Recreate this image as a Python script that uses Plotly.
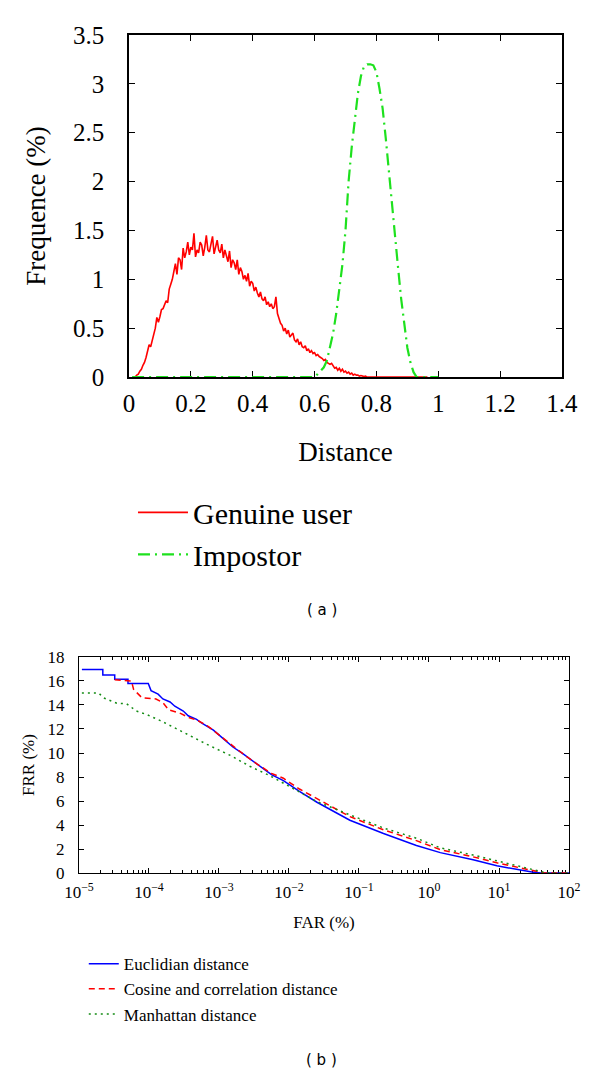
import plotly.graph_objects as go

# (a) distance distributions
# genuine user histogram, one value every 0.005 starting at 0.015
gen_start = 0.015
gen_step = 0.005
genuine = [
    0.0, 0.0, 0.02, 0.03, 0.06, 0.08, 0.12, 0.15, 0.20, 0.27,
    0.33, 0.31, 0.38, 0.42, 0.50, 0.61, 0.56, 0.62, 0.69, 0.70,
    0.74, 0.78, 0.76, 0.90, 0.95, 1.00, 1.08, 1.16, 1.05, 1.22,
    1.20, 1.10, 1.32, 1.22, 1.28, 1.38, 1.25, 1.33, 1.30, 1.47,
    1.23, 1.30, 1.27, 1.38, 1.35, 1.24, 1.33, 1.45, 1.30, 1.28,
    1.36, 1.44, 1.26, 1.33, 1.40, 1.30, 1.27, 1.36, 1.22, 1.30,
    1.25, 1.18, 1.29, 1.12, 1.20, 1.17, 1.10, 1.20, 1.05, 1.12,
    1.08, 1.00, 1.04, 0.98, 1.06, 0.93, 0.98, 0.96, 0.88, 0.92,
    0.86, 0.82, 0.87, 0.80, 0.78, 0.82, 0.74, 0.77, 0.72, 0.75,
    0.70, 0.72, 0.82, 0.65, 0.60, 0.55, 0.53, 0.47, 0.50, 0.44,
    0.48, 0.41, 0.43, 0.45, 0.38, 0.36, 0.39, 0.33, 0.36, 0.31,
    0.30, 0.32, 0.27, 0.29, 0.25, 0.27, 0.24, 0.25, 0.22, 0.23,
    0.21, 0.20, 0.19, 0.17, 0.18, 0.15, 0.14, 0.13, 0.14, 0.11,
    0.09, 0.10, 0.07, 0.09, 0.06, 0.08, 0.05, 0.06, 0.04, 0.05,
    0.03, 0.04, 0.02, 0.03, 0.02, 0.02, 0.01, 0.015, 0.01, 0.005,
    0.01, 0.0,
]
gen_tail_x = 0.965  # flat at zero until here

impostor_x = [0.01, 0.60, 0.61, 0.62, 0.63, 0.64, 0.65, 0.66, 0.67, 0.68,
              0.69, 0.70, 0.71, 0.72, 0.73, 0.74, 0.75, 0.76, 0.77, 0.78,
              0.79, 0.80, 0.81, 0.82, 0.83, 0.84, 0.85, 0.86, 0.87, 0.88,
              0.89, 0.90, 0.91, 0.92, 0.93, 1.0]
impostor = [0.0, 0.0, 0.03, 0.06, 0.10, 0.17, 0.30, 0.45, 0.65, 0.90,
            1.15, 1.50, 2.00, 2.35, 2.65, 2.90, 3.08, 3.18, 3.20, 3.20,
            3.19, 3.12, 2.95, 2.75, 2.45, 2.10, 1.78, 1.47, 1.12, 0.80,
            0.52, 0.30, 0.15, 0.05, 0.0, 0.0]

# (b) FAR / FRR curves
eucl_far = [1.10e-5, 2.19e-5, 2.19e-5, 3.24e-5, 3.24e-5, 5.01e-5, 5.01e-5, 9.77e-5,
            1.07e-4, 1.35e-4, 1.58e-4, 2.0e-4, 2.34e-4, 3.09e-4, 3.63e-4, 4.79e-4,
            5.62e-4, 8.32e-4, 1.15e-3, 1.58e-3, 2.24e-3, 3.47e-3, 5.62e-3, 8.32e-3,
            1.41e-2, 2.51e-2, 7.41e-2, 0.224, 0.661, 1.45, 4.27, 9.33, 17.8, 29.5,
            39.8, 100]
eucl_frr = [16.95, 16.95, 16.5, 16.5, 16.15, 16.15, 15.8, 15.8,
            15.2, 14.9, 14.5, 14.25, 13.9, 13.5, 13.1, 12.8,
            12.5, 11.9, 11.2, 10.5, 9.9, 9.1, 8.2, 7.7,
            6.8, 5.9, 4.4, 3.3, 2.3, 1.7, 1.1, 0.6, 0.3, 0.08,
            0.0, 0.0]

cos_far = [3.24e-5, 5.01e-5, 5.62e-5, 6.03e-5, 7.94e-5, 1.26e-4, 1.58e-4, 1.91e-4,
           2.82e-4, 3.55e-4, 5.01e-4, 7.08e-4, 1.0e-3, 1.58e-3, 2.24e-3, 3.47e-3,
           5.62e-3, 8.32e-3, 1.41e-2, 2.51e-2, 7.41e-2, 0.224, 0.661, 1.45,
           4.27, 9.33, 17.8, 26.9, 37.2, 44.7, 100]
cos_frr = [16.1, 16.0, 16.0, 15.3, 14.6, 14.5, 14.2, 13.6,
           13.3, 13.0, 12.7, 12.2, 11.5, 10.6, 9.9, 9.1,
           8.3, 7.9, 7.0, 6.2, 4.7, 3.6, 2.7, 1.95,
           1.35, 0.85, 0.5, 0.25, 0.05, 0.0, 0.0]

manh_far = [1.10e-5, 1.91e-5, 2.24e-5, 3.47e-5, 4.79e-5, 6.61e-5, 9.33e-5, 1.45e-4,
            2.51e-4, 4.27e-4, 7.41e-4, 1.45e-3, 2.75e-3, 5.37e-3, 1.02e-2, 1.70e-2,
            2.51e-2, 7.41e-2, 0.224, 0.661, 1.45, 4.27, 10.0, 12.9,
            26.9, 44.7, 56.2, 100]
manh_frr = [15.0, 15.0, 14.6, 14.15, 14.1, 13.5, 13.2, 12.7,
            12.0, 11.3, 10.6, 9.8, 8.9, 8.1, 7.2, 6.5,
            5.95, 4.85, 3.75, 2.9, 2.1, 1.5, 0.97, 0.8,
            0.33, 0.05, 0.0, 0.0]

far_ticks = [1e-5, 1e-4, 1e-3, 1e-2, 1e-1, 1e0, 1e1, 1e2]
far_labels = ["10<sup>−5</sup>", "10<sup>−4</sup>", "10<sup>−3</sup>", "10<sup>−2</sup>",
              "10<sup>−1</sup>", "10<sup>0</sup>", "10<sup>1</sup>", "10<sup>2</sup>"]

serif = "Liberation Serif"

gen_x = [round(gen_start + gen_step * i, 3) for i in range(len(genuine))] + [gen_tail_x]
gen_y = genuine + [0.0]

fig = go.Figure()
fig.add_trace(go.Scatter(x=gen_x, y=gen_y, mode="lines", name="Genuine user",
                         line=dict(color="red", width=1.6),
                         xaxis="x", yaxis="y", legend="legend", legendgroup="a1"))
fig.add_trace(go.Scatter(x=impostor_x, y=impostor, mode="lines", name="Impostor",
                         line=dict(color="rgb(30,225,30)", width=2.2, dash="12px,5px,2px,5px"),
                         xaxis="x", yaxis="y", legend="legend", legendgroup="a2"))

fig.add_trace(go.Scatter(x=eucl_far, y=eucl_frr, mode="lines", name="Euclidian distance",
                         line=dict(color="blue", width=1.5),
                         xaxis="x2", yaxis="y2", legend="legend2", legendgroup="b1"))
fig.add_trace(go.Scatter(x=cos_far, y=cos_frr, mode="lines", name="Cosine and correlation distance",
                         line=dict(color="red", width=1.5, dash="6px,4px"),
                         xaxis="x2", yaxis="y2", legend="legend2", legendgroup="b2"))
fig.add_trace(go.Scatter(x=manh_far, y=manh_frr, mode="lines", name="Manhattan distance",
                         line=dict(color="rgb(20,140,20)", width=1.5, dash="2px,4px"),
                         xaxis="x2", yaxis="y2", legend="legend2", legendgroup="b3"))

axis_common = dict(showgrid=False, zeroline=False, showline=True, linecolor="black",
                   mirror="ticks", ticks="inside", tickcolor="black",
                   layer="below traces", automargin=False)

fig.update_layout(
    width=600, height=1075,
    margin=dict(l=0, r=0, t=0, b=0),
    paper_bgcolor="white", plot_bgcolor="white",
    font=dict(family=serif, color="black"),
    xaxis=dict(axis_common, domain=[0.2017, 0.9233], anchor="y", range=[0, 1.4],
               tick0=0, dtick=0.2, ticklen=6, linewidth=1.6,
               tickfont=dict(family=serif, size=25), ticklabelstandoff=3,
               title=dict(text="Distance", font=dict(family=serif, size=27), standoff=26)),
    yaxis=dict(axis_common, domain=[0.6567, 0.9749], anchor="x", range=[0, 3.5],
               tick0=0, dtick=0.5, ticklen=6, linewidth=1.6,
               tickfont=dict(family=serif, size=25), ticklabelstandoff=18,
               title=dict(text="Frequence (%)", font=dict(family=serif, size=27), standoff=20)),
    xaxis2=dict(axis_common, domain=[0.1183, 0.935], anchor="y2", type="log",
                range=[-5, 2], tickmode="array", tickvals=far_ticks, ticktext=far_labels,
                ticklen=5, linewidth=1,
                minor=dict(ticks="inside", ticklen=3, dtick="D1", tickcolor="black"),
                tickfont=dict(family=serif, size=17), ticklabelstandoff=4,
                title=dict(text="FAR (%)", font=dict(family=serif, size=17), standoff=14)),
    yaxis2=dict(axis_common, domain=[0.1953, 0.3963], anchor="x2", range=[0, 18],
                tick0=0, dtick=2, ticklen=5, linewidth=1,
                tickfont=dict(family=serif, size=17), ticklabelstandoff=10,
                title=dict(text="FRR (%)", font=dict(family=serif, size=17), standoff=8)),
    legend=dict(x=0.2083, y=0.555, xanchor="left", yanchor="top",
                font=dict(family=serif, size=30), bgcolor="rgba(0,0,0,0)", tracegroupgap=0,
                itemwidth=50),
    legend2=dict(x=0.1263, y=0.1273, xanchor="left", yanchor="top",
                 font=dict(family=serif, size=17), bgcolor="rgba(0,0,0,0)", tracegroupgap=0),
    showlegend=True,
    annotations=[
        dict(text="( a )", x=0.5233, y=0.44, xref="paper", yref="paper",
             showarrow=False, font=dict(family="DejaVu Sans", size=15)),
        dict(text="( b )", x=0.5233, y=0.0112, xref="paper", yref="paper",
             showarrow=False, font=dict(family="DejaVu Sans", size=15)),
    ],
)

fig.write_html("out.html")
